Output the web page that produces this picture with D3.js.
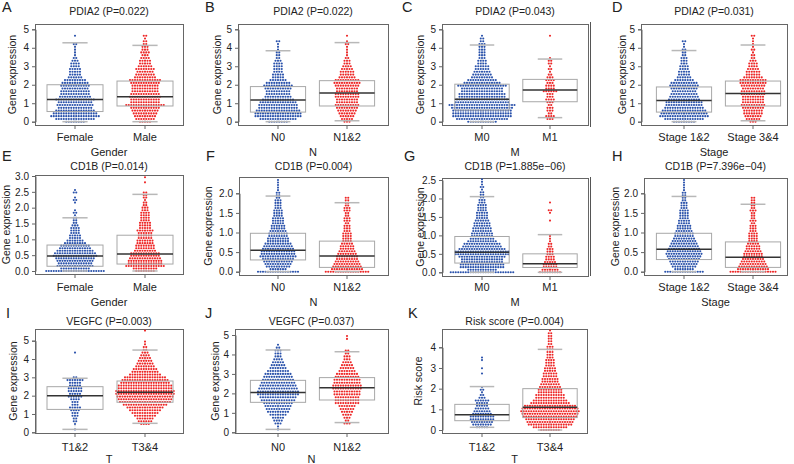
<!DOCTYPE html>
<html lang="en">
<head>
<meta charset="UTF-8">
<title>Beeswarm boxplots</title>
<script src="https://d3js.org/d3.v7.min.js"></script>
<style>
  body { margin: 0; background: #fff; }
  text { font-family: "Liberation Sans", Arial, sans-serif; fill: #222; }
</style>
</head>
<body>
<div id="chart"></div>
<script>
// ---- data ----
// counts of dots per row; row i sits at value i * step of its panel
const pdia2Female = [8,16,20,18,16,14,15,14,16,13,12,12,11,12,11,9,6,5,5,5,4,4,3,2,1,1,1,1,2,0,0,1];
const pdia2Male   = [5,8,9,10,11,12,16,12,12,13,12,11,11,11,12,13,9,8,7,8,6,5,5,4,3,4,3,3,2,2,1,2];
const pdia2N0     = [8,15,19,19,18,16,16,15,13,11,10,10,11,12,10,7,5,5,4,4,4,4,3,2,2,2,1,1,1,2];
const pdia2N12    = [3,5,6,7,8,9,10,9,9,10,10,9,9,10,11,10,7,6,6,5,4,3,3,2,1,1,1,1,2,1,0,1];
const pdia2M0     = [12,21,24,24,24,25,27,22,21,19,19,17,17,20,15,12,9,8,7,6,6,4,4,3,3,3,3,3,3,2,2,1];
const pdia2M1     = [0,3,4,2,3,3,2,3,4,3,3,6,4,4,3,4,3,2,1,2,1,2,2,1,0,0,0,0,0,0,0,1];
const pdia2S12    = [9,16,20,19,18,16,15,15,13,12,11,10,11,12,11,8,6,5,5,4,4,3,3,3,2,2,2,1,1,2];
const pdia2S34    = [3,6,7,8,8,9,10,9,9,9,10,10,9,10,11,11,8,6,6,5,4,4,3,2,2,1,2,1,1,1,1,2];

const cd1bFemale  = [24,12,15,14,15,16,18,17,15,13,12,9,7,5,5,4,4,4,3,2,2,2,1,2,1,0,0,1,2,1,0,2,1];
const cd1bMale    = [8,10,16,14,14,13,12,12,9,8,8,7,7,6,6,6,7,5,5,5,4,4,4,4,3,3,2,2,1,2,2,2,0,0,0,1,0,1];
const cd1bN0      = [17,7,10,11,12,13,15,14,14,13,12,11,9,9,8,8,7,6,6,5,5,5,4,4,4,3,3,3,3,2,2,2,1,1,1,1,1];
const cd1bN12     = [18,13,12,11,10,9,9,8,7,6,6,5,4,4,4,4,3,3,3,2,3,3,2,2,3,3,2,2,2,2];
const cd1bM0      = [26,12,18,18,17,17,19,22,22,19,16,15,12,10,9,9,8,8,7,7,6,5,5,5,4,4,4,3,3,2,2,2,1,2,1,1,1];
const cd1bM1      = [9,7,6,6,5,4,4,3,3,3,2,2,1,1,1,0,0,0,0,0,1,0,0,1,2,0,0,1];
const cd1bS12     = [16,8,10,11,12,13,14,15,14,13,12,11,10,9,8,8,7,6,6,5,5,4,4,4,4,3,3,3,2,2,2,2,1,1,1,1,1];
const cd1bS34     = [19,13,12,11,10,9,8,8,7,6,6,5,4,4,4,4,3,3,3,2,3,2,2,2,3,2,2,2,2,2];

const vegfcT12    = [0,1,0,1,2,2,3,3,4,5,3,3,4,6,5,6,6,5,5,7,2,0,0,0,0,0,0,0,0,1];
const vegfcT34    = [0,0,0,4,6,7,9,11,13,15,18,21,22,23,24,24,22,22,20,19,17,13,11,10,8,7,6,5,4,3,2,2,1,1,0,0,0,1];
const vegfcN0     = [0,1,1,3,4,5,7,9,10,11,12,14,15,17,17,16,15,14,13,12,11,9,7,6,5,4,3,3,3,2,1];
const vegfcN12    = [0,0,0,3,2,3,4,5,6,7,10,10,10,11,11,12,12,11,11,10,9,7,6,5,4,3,3,2,2,0,0,0,1,1];

const riskT12     = [0,5,8,9,10,10,8,7,6,5,5,6,3,2,1,2,1,0,0,0,0,1,0,1,0,0,1,1];
const riskT34     = [8,14,18,19,20,22,23,24,23,21,16,14,12,12,10,10,9,8,7,7,6,6,5,5,4,4,4,3,3,3,3,3,2,2,2,2,2,1];

// row step (value units) per panel
const rowSteps = [0.15, 0.15, 0.15, 0.15, 0.08, 0.065, 0.07, 0.065, 0.15, 0.15, 0.13];

// box stats per group: [lower cap, Q1, median, Q3, upper cap]
const boxStats = [
  [[0,0.55,1.2,2.0,4.27],   [0,0.85,1.35,2.2,4.13]],
  [[0,0.52,1.17,1.9,3.84],  [0.05,0.85,1.55,2.22,4.28]],
  [[0,0.63,1.21,2.03,4.15], [0.22,1.08,1.71,2.29,3.39]],
  [[0,0.52,1.15,1.88,3.85], [0.05,0.85,1.53,2.2,4.15]],
  [[0,0.15,0.47,0.82,1.68], [0,0.22,0.54,1.13,2.42]],
  [[0,0.3,0.55,0.98,1.93],  [0,0.11,0.4,0.78,1.76]],
  [[0,0.25,0.54,0.97,2.05], [0,0.13,0.23,0.5,1.02]],
  [[0,0.31,0.57,0.98,1.92], [0,0.11,0.37,0.76,1.72]],
  [[0.16,1.25,2.0,2.49,2.95], [0.49,1.64,2.18,2.8,4.49]],
  [[0.15,1.54,2.05,2.67,4.23], [0.5,1.66,2.29,2.81,4.14]],
  [[0.13,0.45,0.74,1.24,2.1], [0,0.6,1.1,2.0,3.9]]
];

const groupCounts = [
  [pdia2Female, pdia2Male], [pdia2N0, pdia2N12], [pdia2M0, pdia2M1], [pdia2S12, pdia2S34],
  [cd1bFemale, cd1bMale], [cd1bN0, cd1bN12], [cd1bM0, cd1bM1], [cd1bS12, cd1bS34],
  [vegfcT12, vegfcT34], [vegfcN0, vegfcN12], [riskT12, riskT34]
];

const letters = ["A","B","C","D","E","F","G","H","I","J","K"];
const titles = ["PDIA2 (P=0.022)","PDIA2 (P=0.022)","PDIA2 (P=0.043)","PDIA2 (P=0.031)",
  "CD1B (P=0.014)","CD1B (P=0.004)","CD1B (P=1.885e\u221206)","CD1B (P=7.396e\u221204)",
  "VEGFC (P=0.003)","VEGFC (P=0.037)","Risk score (P=0.004)"];
const groupNames = [["Female","Male"],["N0","N1&2"],["M0","M1"],["Stage 1&2","Stage 3&4"],
  ["Female","Male"],["N0","N1&2"],["M0","M1"],["Stage 1&2","Stage 3&4"],
  ["T1&2","T3&4"],["N0","N1&2"],["T1&2","T3&4"]];
const xTitles = ["Gender","N","M","Stage","Gender","N","M","Stage","T","N","T"];
const yTitles = ["Gene expression","Gene expression","Gene expression","Gene expression",
  "Gene expression","Gene expression","Gene expression","Gene expression",
  "Gene expression","Gene expression","Risk score"];
const yTicks = [
  [0,1,2,3,4,5],[0,1,2,3,4,5],[0,1,2,3,4,5],[0,1,2,3,4,5],
  [0,0.5,1,1.5,2,2.5,3],[0,0.5,1,1.5,2],[0,0.5,1,1.5,2,2.5],[0,0.5,1,1.5,2],
  [0,1,2,3,4,5],[0,1,2,3,4,5],[0,1,2,3,4]
];
const tickFormats = ["d","d","d","d",".1f",".1f",".1f",".1f","d","d","d"];

// ---- layout (pixels) ----
// frame box, category centres, pixel of tick 0 and of last tick, y-label x, letter x
const geo = [
  {x0:35, x1:183, y0:24, y1:125, c:[75,145],  p0:121.7, pTop:29.3, yl:12,  lx:2},
  {x0:238,x1:388, y0:24, y1:125, c:[278,347], p0:121.7, pTop:29.3, yl:217, lx:205},
  {x0:442,x1:588, y0:24, y1:125, c:[482,550], p0:121.7, pTop:29.3, yl:420, lx:402},
  {x0:641,x1:787, y0:24, y1:125, c:[684,753], p0:121.7, pTop:29.3, yl:622, lx:612},
  {x0:35, x1:183, y0:175,y1:274, c:[75,145],  p0:271,   pTop:176,  yl:6,   lx:2},
  {x0:239,x1:388, y0:177,y1:275, c:[278,347], p0:271.7, pTop:193.3,yl:208, lx:206},
  {x0:442,x1:588, y0:178,y1:276, c:[482,550], p0:272.3, pTop:180,  yl:420, lx:404},
  {x0:644,x1:787, y0:178,y1:275, c:[684,753], p0:271.7, pTop:193.3,yl:615, lx:612},
  {x0:35, x1:183, y0:329,y1:433, c:[75,145],  p0:432.3, pTop:340.7,yl:13,  lx:6},
  {x0:235,x1:388, y0:329,y1:433, c:[278,347], p0:432.3, pTop:335,  yl:215, lx:205},
  {x0:442,x1:587, y0:329,y1:433, c:[482,550], p0:430,   pTop:347.3,yl:418, lx:408}
];
const rowText = [
  {letter:12,  title:15,  tick:141, xt:156},
  {letter:161, title:170, tick:291, xt:306},
  {letter:318, title:325, tick:451, xt:463}
];

const W = 794, H = 464;
const colors = ["#2a52ab", "#ee2626"];
const dotGap = 2.5, dotR = 1.05;

const svg = d3.select("#chart").append("svg")
  .attr("width", W).attr("height", H);

// scanner edge line on the left of the 4th column
svg.append("line").attr("x1", 590.5).attr("x2", 590.5).attr("y1", 22).attr("y2", 127)
  .attr("stroke", "#555").attr("stroke-width", 1);
svg.append("line").attr("x1", 590.5).attr("x2", 590.5).attr("y1", 177).attr("y2", 276)
  .attr("stroke", "#555").attr("stroke-width", 1);

geo.forEach((g, i) => {
  const row = rowText[Math.floor(i / 4)];
  const ticks = yTicks[i];
  const y = d3.scaleLinear().domain([0, ticks[ticks.length - 1]]).range([g.p0, g.pTop]);
  const x = d3.scaleLinear().domain([1, 2]).range(g.c);
  const bw = (g.c[1] - g.c[0]) * 0.4;
  const p = svg.append("g");

  // letter + title
  p.append("text").attr("x", g.lx).attr("y", row.letter)
    .attr("font-size", 14.5).text(letters[i]);
  p.append("text").attr("x", (g.x0 + g.x1) / 2).attr("y", row.title)
    .attr("text-anchor", "middle").attr("font-size", 10.5).text(titles[i]);

  // frame
  p.append("rect").attr("x", g.x0 + 0.5).attr("y", g.y0 + 0.5)
    .attr("width", g.x1 - g.x0).attr("height", g.y1 - g.y0)
    .attr("fill", "none").attr("stroke", "#666").attr("stroke-width", 1);

  // y axis
  const fmt = d3.format(tickFormats[i]);
  const ax = p.append("g").attr("transform", `translate(${g.x0 + 0.5},0)`)
    .call(d3.axisLeft(y).tickValues(ticks).tickFormat(fmt).tickSize(3.5).tickPadding(3));
  ax.select(".domain").attr("stroke", "#666");
  ax.selectAll(".tick line").attr("stroke", "#666");
  ax.selectAll(".tick text").attr("font-size", 10).attr("fill", "#333")
    .attr("font-family", "Liberation Sans, Arial, sans-serif");

  // x ticks + labels
  [1, 2].forEach(k => {
    p.append("line").attr("x1", x(k)).attr("x2", x(k))
      .attr("y1", g.y1 + 0.5).attr("y2", g.y1 + 4).attr("stroke", "#666");
    p.append("text").attr("x", x(k)).attr("y", row.tick).attr("text-anchor", "middle")
      .attr("font-size", 11).attr("fill", "#333").text(groupNames[i][k - 1]);
  });
  p.append("text").attr("x", (g.x0 + g.x1) / 2).attr("y", row.xt).attr("text-anchor", "middle")
    .attr("font-size", 11).text(xTitles[i]);
  p.append("text")
    .attr("transform", `translate(${g.yl},${(g.y0 + g.y1) / 2}) rotate(-90)`)
    .attr("text-anchor", "middle").attr("dominant-baseline", "central")
    .attr("font-size", 10.5).text(yTitles[i]);

  // whiskers (dashed, faint)
  boxStats[i].forEach((b, k) => {
    const cx = x(k + 1);
    p.append("line").attr("x1", cx).attr("x2", cx).attr("y1", y(b[3])).attr("y2", y(b[4]))
      .attr("stroke", "#bbb").attr("stroke-width", 0.8).attr("stroke-dasharray", "1.5,1.5");
    p.append("line").attr("x1", cx).attr("x2", cx).attr("y1", y(b[0])).attr("y2", y(b[1]))
      .attr("stroke", "#bbb").attr("stroke-width", 0.8).attr("stroke-dasharray", "1.5,1.5");
  });

  // dots: rows of points centred on each category
  const step = rowSteps[i];
  groupCounts[i].forEach((counts, k) => {
    const pts = [];
    counts.forEach((n, r) => {
      for (let j = 0; j < n; j++) pts.push({ v: r * step, off: (j - (n - 1) / 2) * dotGap });
    });
    p.append("g").selectAll("circle").data(pts).join("circle")
      .attr("cx", d => x(k + 1) + d.off)
      .attr("cy", d => y(d.v))
      .attr("r", dotR)
      .attr("fill", colors[k]);
  });

  // boxes on top
  boxStats[i].forEach((b, k) => {
    const cx = x(k + 1);
    p.append("rect").attr("x", cx - bw).attr("y", y(b[3]))
      .attr("width", bw * 2).attr("height", y(b[1]) - y(b[3]))
      .attr("fill", "none").attr("stroke", "#a8a8a8").attr("stroke-width", 1);
    p.append("line").attr("x1", cx - bw).attr("x2", cx + bw)
      .attr("y1", y(b[2])).attr("y2", y(b[2]))
      .attr("stroke", "#333").attr("stroke-width", 1.5);
    [b[0], b[4]].forEach(v => {
      p.append("line").attr("x1", cx - bw * 0.45).attr("x2", cx + bw * 0.45)
        .attr("y1", y(v)).attr("y2", y(v))
        .attr("stroke", "#b8b8b8").attr("stroke-width", 1.5);
    });
  });
});
</script>
</body>
</html>
